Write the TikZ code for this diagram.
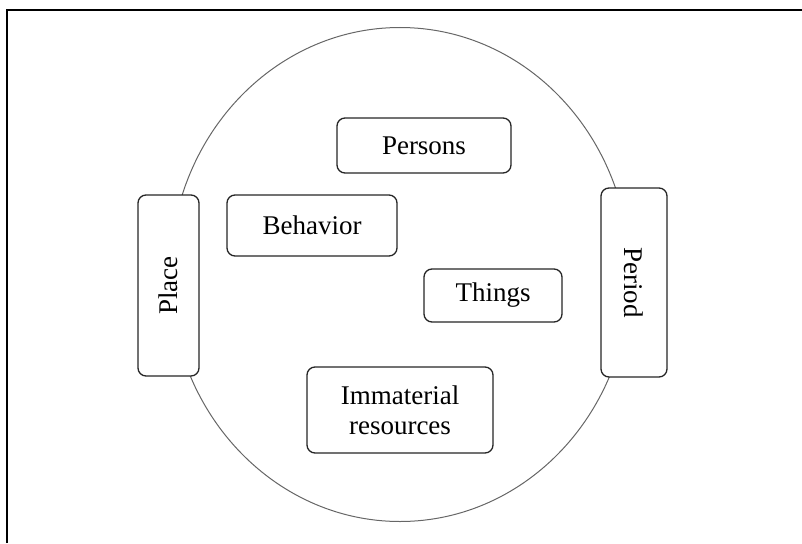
\documentclass[tikz,border=0pt]{standalone}
\usepackage{fontspec}
\setmainfont{Liberation Serif}
\begin{document}
\begin{tikzpicture}[x=1pt,y=-1pt,
  box/.style={draw=black!85, line width=1.3pt, rounded corners=8pt, fill=white,
    font=\fontsize{27}{30}\selectfont, align=center, inner sep=0pt},
  frame/.style={draw=black, line width=2pt},
  ring/.style={draw=black!60, line width=1pt}]
\useasboundingbox (0,0) rectangle (802,543);
\draw[frame] (7,543) -- (7,10.5) -- (802,10.5);
\draw[ring] (400,274.5) ellipse [x radius=230, y radius=247];
\node[box, minimum width=174pt, minimum height=55pt] (persons) at (424,145.5) {Persons};
\node[box, minimum width=170pt, minimum height=61pt] (behavior) at (312,225.5) {Behavior};
\node[box, minimum width=138pt, minimum height=53pt] (things) at (493,295.5) {Things};
\node[box, minimum width=186pt, minimum height=86pt] (immaterial) at (400,410) {Immaterial\\resources};
\node[box, rotate=90, minimum width=181pt, minimum height=61pt] (place) at (168.5,285.5) {Place};
\node[box, rotate=-90, minimum width=189pt, minimum height=66pt] (period) at (634,282.5) {Period};
\end{tikzpicture}
\end{document}
